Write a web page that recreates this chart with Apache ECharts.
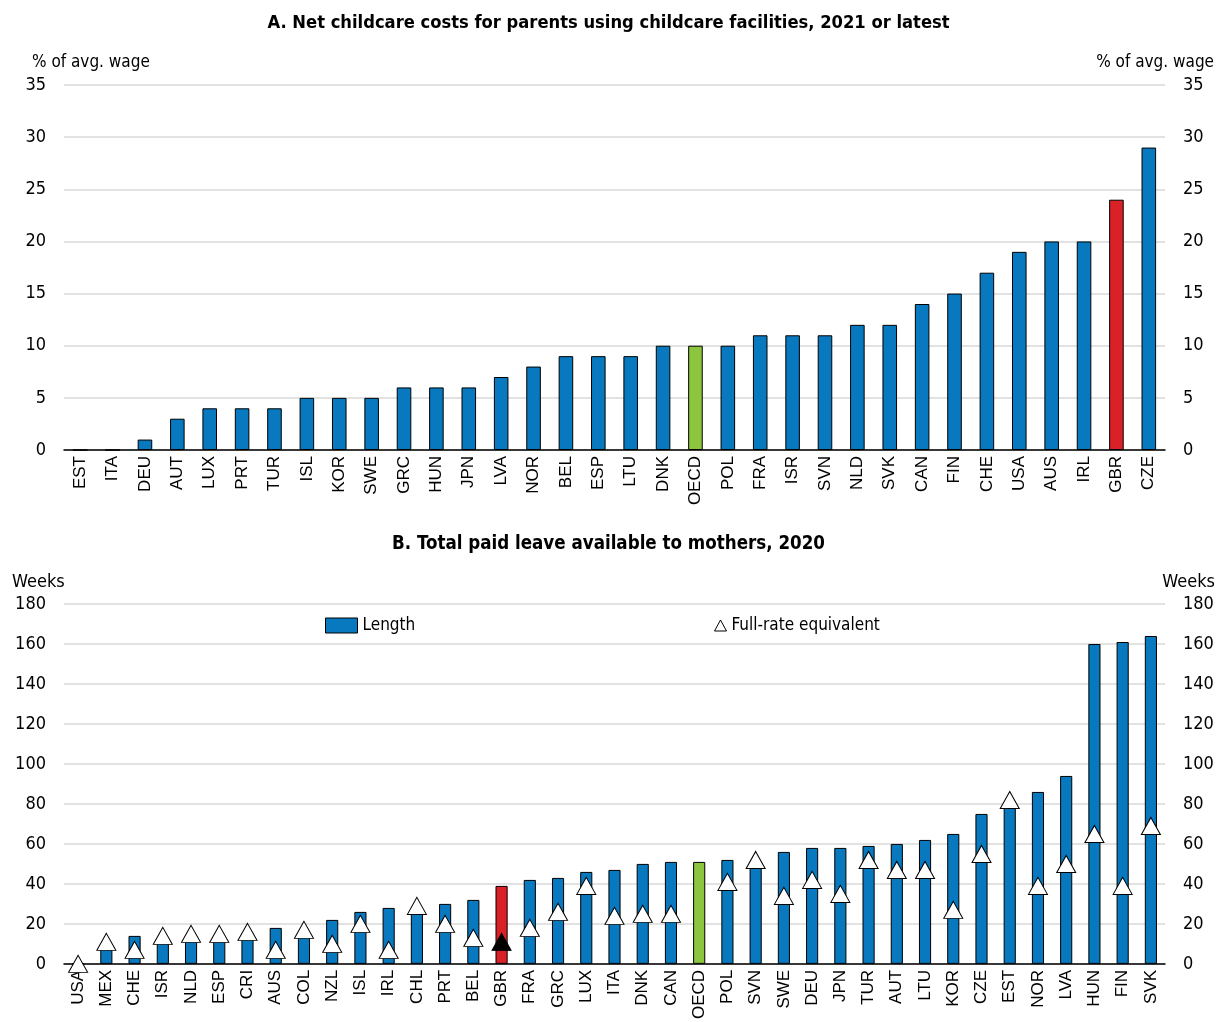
<!DOCTYPE html>
<html>
<head>
<meta charset="utf-8">
<script src="https://cdn.jsdelivr.net/npm/echarts@6/dist/echarts.min.js"></script>
<style>
  html, body { margin: 0; padding: 0; background: #fff; }
  #chart { width: 1217px; height: 1022px; }
</style>
</head>
<body>
<div id="chart"></div>
<script>
// Panel A: net childcare costs, % of average wage
const costCountries = ['EST','ITA','DEU','AUT','LUX','PRT','TUR','ISL','KOR','SWE','GRC','HUN','JPN','LVA','NOR','BEL','ESP','LTU','DNK','OECD','POL','FRA','ISR','SVN','NLD','SVK','CAN','FIN','CHE','USA','AUS','IRL','GBR','CZE'];
const costValues = [0,0,1,3,4,4,4,5,5,5,6,6,6,7,8,9,9,9,10,10,10,11,11,11,12,12,14,15,17,19,20,20,24,29];

// Panel B: total paid leave available to mothers, weeks
const leaveCountries = ['USA','MEX','CHE','ISR','NLD','ESP','CRI','AUS','COL','NZL','ISL','IRL','CHL','PRT','BEL','GBR','FRA','GRC','LUX','ITA','DNK','CAN','OECD','POL','SVN','SWE','DEU','JPN','TUR','AUT','LTU','KOR','CZE','EST','NOR','LVA','HUN','FIN','SVK'];
const leaveLength = [0,8,14,11,12,12,13,18,14,22,26,28,26,30,32,39,42,43,46,47,50,51,51,52,49,56,58,58,59,60,62,65,75,80,86,94,160,161,164];
const fullRateEquivalent = [0,11,7,14,15,15,16,7,17,10,20,7,29,20,13,11,18,26,39,24,25,25,'-',41,52,34,42,35,52,47,47,27,55,82,39,50,65,39,69];

const costTicks = { min: 0, max: 35, interval: 5 };
const leaveTicks = { min: 0, max: 180, interval: 20 };

const BLUE = '#0878BF';
const RED = '#DA2128';
const GREEN = '#8CC63F';
const NARROW = '"DejaVu Sans Condensed", "Liberation Sans Narrow", "Liberation Sans", sans-serif';
const REGULAR = '"Liberation Sans", Arial, sans-serif';

function barColor(p) {
  if (p.name === 'GBR') return RED;
  if (p.name === 'OECD') return GREEN;
  return BLUE;
}

function catAxis(gridIndex, data) {
  return {
    type: 'category', gridIndex, data,
    axisLine: { lineStyle: { color: '#000', width: 1.5 } },
    axisTick: { inside: true, length: 5, lineStyle: { color: '#000', width: 1.5 } },
    axisLabel: { rotate: 90, interval: 0, color: '#000', fontFamily: REGULAR, fontSize: 17, margin: 6 }
  };
}

function valAxis(gridIndex, ticks, position, showGrid) {
  return {
    type: 'value', gridIndex, position,
    min: ticks.min, max: ticks.max, interval: ticks.interval,
    axisLine: { show: false }, axisTick: { show: false },
    splitLine: { show: showGrid, lineStyle: { color: '#d9d9d9', width: 1.5 } },
    axisLabel: { color: '#000', fontFamily: NARROW, fontSize: 18, margin: 18 }
  };
}

const textStyle = (size, weight) => ({ fill: '#000', font: weight + ' ' + size + 'px ' + NARROW });

const chart = echarts.init(document.getElementById('chart'), null, { renderer: 'canvas' });
chart.setOption({
  animation: false,
  backgroundColor: '#fff',
  grid: [
    { left: 64, right: 52, top: 85, height: 365 },
    { left: 64, right: 52, top: 604, height: 365 }
  ],
  xAxis: [catAxis(0, costCountries), catAxis(1, leaveCountries)],
  yAxis: [
    valAxis(0, costTicks, 'left', true),
    valAxis(0, costTicks, 'right', false),
    valAxis(1, leaveTicks, 'left', true),
    valAxis(1, leaveTicks, 'right', false)
  ],
  legend: [
    {
      data: [{ name: 'Length', icon: 'rect', itemStyle: { color: BLUE, borderColor: '#000', borderWidth: 1 } }],
      left: 325, top: 617, padding: 0, itemWidth: 32, itemHeight: 15, itemGap: 13,
      textStyle: { color: '#000', fontFamily: NARROW, fontSize: 17 }
    },
    {
      data: [{ name: 'Full-rate equivalent', icon: 'triangle', itemStyle: { color: '#fff', borderColor: '#000', borderWidth: 1 } }],
      left: 714, top: 617, padding: 0, itemWidth: 12, itemHeight: 11, itemGap: 3,
      textStyle: { color: '#000', fontFamily: NARROW, fontSize: 17 }
    }
  ],
  graphic: [
    { type: 'text', left: 'center', top: 14, style: Object.assign({ text: 'A. Net childcare costs for parents using childcare facilities, 2021 or latest' }, textStyle(18.2, 'bold')) },
    { type: 'text', left: 32, top: 54, style: Object.assign({ text: '% of avg. wage' }, textStyle(17, 'normal')) },
    { type: 'text', right: 3, top: 54, style: Object.assign({ text: '% of avg. wage' }, textStyle(17, 'normal')) },
    { type: 'text', left: 'center', top: 535, style: Object.assign({ text: 'B. Total paid leave available to mothers, 2020' }, textStyle(18.6, 'bold')) },
    { type: 'text', left: 12, top: 573, style: Object.assign({ text: 'Weeks' }, textStyle(18, 'normal')) },
    { type: 'text', right: 2, top: 573, style: Object.assign({ text: 'Weeks' }, textStyle(18, 'normal')) }
  ],
  series: [
    {
      name: 'Net childcare costs', type: 'bar', xAxisIndex: 0, yAxisIndex: 0,
      data: costValues, barWidth: '45%',
      itemStyle: { color: barColor, borderColor: '#000', borderWidth: 1 }
    },
    {
      name: 'Length', type: 'bar', xAxisIndex: 1, yAxisIndex: 2,
      data: leaveLength, barWidth: '43%',
      itemStyle: { color: barColor, borderColor: '#000', borderWidth: 1 }
    },
    {
      name: 'Full-rate equivalent', type: 'scatter', xAxisIndex: 1, yAxisIndex: 2,
      data: fullRateEquivalent, symbol: 'triangle', symbolSize: [19, 17],
      itemStyle: {
        color: p => (p.name === 'GBR' ? '#000' : '#fff'),
        borderColor: '#000', borderWidth: 1, opacity: 1
      },
      z: 5
    }
  ]
});
</script>
</body>
</html>
